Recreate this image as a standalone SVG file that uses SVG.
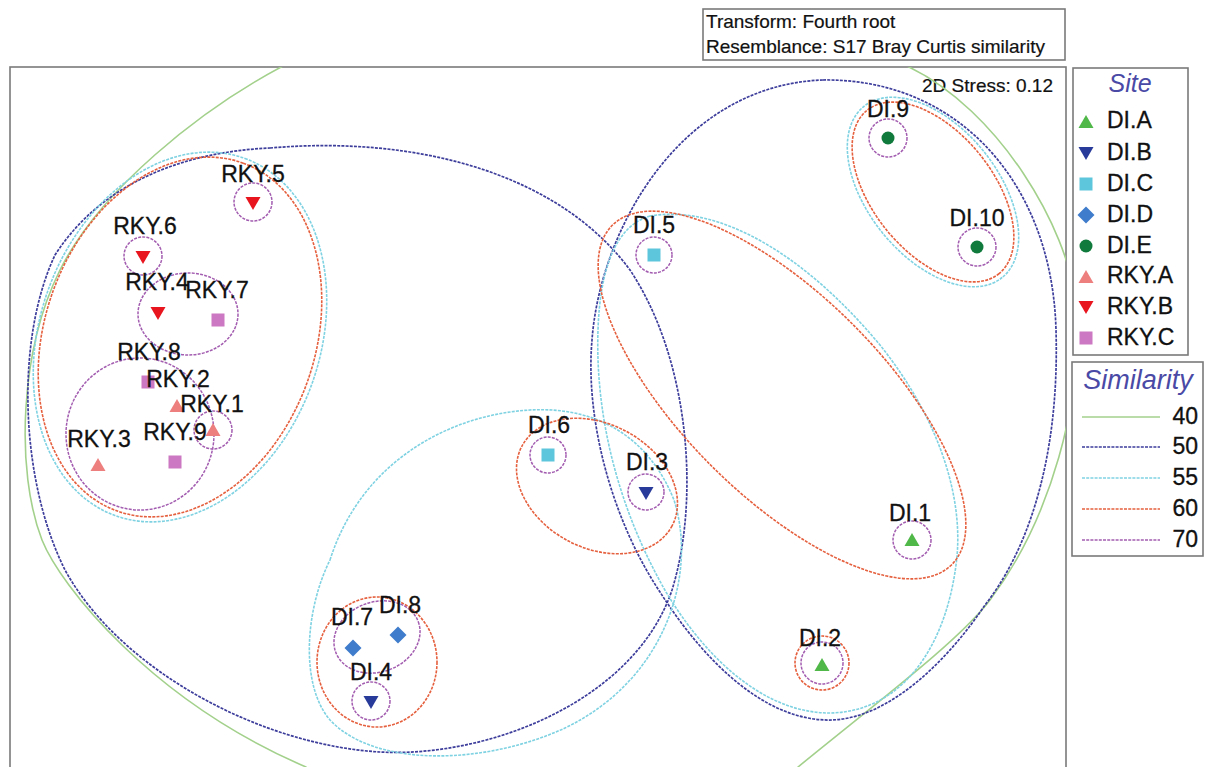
<svg xmlns="http://www.w3.org/2000/svg" xmlns:xlink="http://www.w3.org/1999/xlink" width="1207" height="767" viewBox="0 0 1207 767">
<style>
  .lbl{font-family:"Liberation Sans",Arial,sans-serif;font-size:23px;fill:#111;stroke:#111;stroke-width:0.3;text-anchor:middle}
  .hdr{font-family:"Liberation Sans",Arial,sans-serif;font-size:19px;fill:#111;stroke:#111;stroke-width:0.2}
  .leg{font-family:"Liberation Sans",Arial,sans-serif;font-size:23px;fill:#111;stroke:#111;stroke-width:0.3}
  .ttl{font-family:"Liberation Sans",Arial,sans-serif;font-style:italic;fill:#4a4aa6;text-anchor:middle}
  .box{fill:#fff;stroke:#7a7a7a;stroke-width:1.6}
  .c40{fill:none;stroke:#a3d18c;stroke-width:1.6}
  .c50{fill:none;stroke:#3d3d9c;stroke-width:1.7;stroke-dasharray:3 1.2}
  .c55{fill:none;stroke:#7fd2e2;stroke-width:1.6;stroke-dasharray:3 1.2}
  .c60{fill:none;stroke:#e5603e;stroke-width:1.6;stroke-dasharray:3 1.2}
  .c70{fill:none;stroke:#a35db0;stroke-width:1.5;stroke-dasharray:3 1.2}
  .DIA{fill:#4fb848}.DIB{fill:#283a9a}.DIC{fill:#5ec6dc}.DID{fill:#3f7ccc}.DIE{fill:#0f7a3c}
  .RKA{fill:#ee7f7f}.RKB{fill:#e8141e}.RKC{fill:#cc78c2}
</style>
<defs>
  <polygon id="tu" points="0,-7 7.5,6 -7.5,6"/>
  <polygon id="td" points="-7.5,-6 7.5,-6 0,7"/>
  <rect id="sq" x="-6.5" y="-6.5" width="13" height="13"/>
  <polygon id="dm" points="0,-8.5 8.5,0 0,8.5 -8.5,0"/>
  <circle id="ci" r="6.5"/>
  <clipPath id="frameClip"><rect x="10" y="67" width="1056" height="710"/></clipPath>
</defs>

<rect width="1207" height="767" fill="#fff"/>

<g id="header">
  <rect class="box" x="703" y="9" width="362" height="51"/>
  <text class="hdr" x="706" y="28">Transform: Fourth root</text>
  <text class="hdr" x="706" y="53">Resemblance: S17 Bray Curtis similarity</text>
</g>

<g id="frame">
  <rect x="10" y="67" width="1056" height="720" fill="none" stroke="#7a7a7a" stroke-width="1.6"/>
  <text class="hdr" x="1053" y="92" text-anchor="end">2D Stress: 0.12</text>
</g>

<g id="contours" clip-path="url(#frameClip)">
  <!-- 40 -->
  <path class="c40" d="M 283,66 C 200,110 100,190 60,270 C 20,350 15,470 42,540 C 60,585 150,700 306,767 L 320,800 L 780,800 L 798,767 C 880,700 960,640 990,600 C 1050,520 1085,400 1075,300 C 1068,230 1000,110 907,66"/>
  <!-- 50 left -->
  <path class="c50" d="M 270,148 C 420,135 560,175 630,270 C 690,360 700,500 672,590 C 635,700 490,758 380,752 C 260,745 120,670 65,570 C 20,480 15,340 55,255 C 100,185 180,152 270,148 Z"/>
  <!-- 50 right -->
  <path class="c50" d="M 823,80 C 955,78 1052,180 1056,330 C 1060,470 1022,558 985,605 C 948,660 890,718 832,720 C 762,722 700,655 660,592 C 612,520 585,420 592,340 C 600,230 680,85 823,80 Z"/>
  <!-- 55 -->
  <ellipse class="c55" cx="180" cy="337" rx="190" ry="140" transform="rotate(-70 180 337)"/>
  <ellipse class="c55" cx="933" cy="192" rx="110" ry="65" transform="rotate(51 933 192)"/>
  <path class="c55" d="M 650,216 C 720,204 805,255 880,345 C 940,420 965,500 956,565 C 945,650 900,712 830,713 C 760,713 702,652 666,592 C 620,512 595,420 598,330 C 600,270 615,226 650,216 Z"/>
  <path class="c55" d="M 330,560 C 360,465 445,415 530,410 C 600,406 650,440 674,500 C 698,575 665,680 565,728 C 485,765 375,768 330,720 C 300,685 305,610 330,560 Z"/>
  <!-- 60 -->
  <ellipse class="c60" cx="180" cy="337" rx="185" ry="135" transform="rotate(-70 180 337)"/>
  <ellipse class="c60" cx="933" cy="192" rx="105" ry="60" transform="rotate(51 933 192)"/>
  <ellipse class="c60" cx="782" cy="395" rx="240" ry="100" transform="rotate(45 782 395)"/>
  <ellipse class="c60" cx="597" cy="486" rx="85" ry="62" transform="rotate(28 597 486)"/>
  <ellipse class="c60" cx="377" cy="662" rx="60" ry="65"/>
  <circle class="c60" cx="822" cy="663" r="27"/>
  <!-- 70 -->
  <ellipse class="c70" cx="188" cy="314" rx="50" ry="41"/>
  <ellipse class="c70" cx="140" cy="434" rx="74" ry="76"/>
  <ellipse class="c70" cx="377" cy="637" rx="44" ry="35" transform="rotate(-20 377 637)"/>
</g>

<g id="RKY.5"><circle class="c70" cx="253" cy="202" r="19"/><use xlink:href="#td" x="253" y="203" class="RKB"/><text class="lbl" x="253" y="182">RKY.5</text></g>
<g id="RKY.6"><circle class="c70" cx="143" cy="256" r="19"/><use xlink:href="#td" x="143" y="257" class="RKB"/><text class="lbl" x="145" y="234">RKY.6</text></g>
<g id="RKY.4"><use xlink:href="#td" x="158" y="313" class="RKB"/><text class="lbl" x="157" y="290">RKY.4</text></g>
<g id="RKY.7"><use xlink:href="#sq" x="218" y="320" class="RKC"/><text class="lbl" x="217" y="298">RKY.7</text></g>
<g id="RKY.8"><use xlink:href="#sq" x="148" y="382" class="RKC"/><text class="lbl" x="149" y="360">RKY.8</text></g>
<g id="RKY.2"><use xlink:href="#tu" x="177" y="406" class="RKA"/><text class="lbl" x="178" y="387">RKY.2</text></g>
<g id="RKY.1"><circle class="c70" cx="213" cy="430" r="19"/><use xlink:href="#tu" x="213" y="430" class="RKA"/><text class="lbl" x="212" y="412">RKY.1</text></g>
<g id="RKY.9"><use xlink:href="#sq" x="175" y="462" class="RKC"/><text class="lbl" x="175" y="440">RKY.9</text></g>
<g id="RKY.3"><use xlink:href="#tu" x="98" y="465" class="RKA"/><text class="lbl" x="99" y="447">RKY.3</text></g>

<g id="DI.9"><circle class="c70" cx="888" cy="138" r="19"/><use xlink:href="#ci" x="888" y="138" class="DIE"/><text class="lbl" x="888" y="117">DI.9</text></g>
<g id="DI.10"><circle class="c70" cx="977" cy="247" r="19"/><use xlink:href="#ci" x="977" y="247" class="DIE"/><text class="lbl" x="977" y="226">DI.10</text></g>
<g id="DI.5"><circle class="c70" cx="654" cy="255" r="18"/><use xlink:href="#sq" x="654" y="255" class="DIC"/><text class="lbl" x="654" y="233">DI.5</text></g>
<g id="DI.6"><circle class="c70" cx="548" cy="455" r="18"/><use xlink:href="#sq" x="548" y="455" class="DIC"/><text class="lbl" x="549" y="433">DI.6</text></g>
<g id="DI.3"><circle class="c70" cx="646" cy="492" r="18"/><use xlink:href="#td" x="646" y="493" class="DIB"/><text class="lbl" x="647" y="470">DI.3</text></g>
<g id="DI.1"><circle class="c70" cx="912" cy="540" r="19"/><use xlink:href="#tu" x="912" y="540" class="DIA"/><text class="lbl" x="910" y="521">DI.1</text></g>
<g id="DI.2"><circle class="c70" cx="822" cy="663" r="21"/><use xlink:href="#tu" x="822" y="665" class="DIA"/><text class="lbl" x="820" y="646">DI.2</text></g>
<g id="DI.7"><use xlink:href="#dm" x="353" y="648" class="DID"/><text class="lbl" x="352" y="625">DI.7</text></g>
<g id="DI.8"><use xlink:href="#dm" x="398" y="635" class="DID"/><text class="lbl" x="400" y="613">DI.8</text></g>
<g id="DI.4"><circle class="c70" cx="371" cy="701" r="19"/><use xlink:href="#td" x="371" y="702" class="DIB"/><text class="lbl" x="371" y="680">DI.4</text></g>

<g id="legend-site">
  <rect class="box" x="1073" y="68" width="115" height="287"/>
  <text class="ttl" x="1130" y="92" font-size="25">Site</text>
  <use xlink:href="#tu" x="1086" y="122" class="DIA"/><text class="leg" x="1107" y="128">DI.A</text>
  <use xlink:href="#td" x="1086" y="153" class="DIB"/><text class="leg" x="1107" y="160">DI.B</text>
  <use xlink:href="#sq" x="1086" y="184" class="DIC"/><text class="leg" x="1107" y="191">DI.C</text>
  <use xlink:href="#dm" x="1086" y="215" class="DID"/><text class="leg" x="1107" y="222">DI.D</text>
  <use xlink:href="#ci" x="1086" y="246" class="DIE"/><text class="leg" x="1107" y="253">DI.E</text>
  <use xlink:href="#tu" x="1086" y="277" class="RKA"/><text class="leg" x="1107" y="283">RKY.A</text>
  <use xlink:href="#td" x="1086" y="307" class="RKB"/><text class="leg" x="1107" y="314">RKY.B</text>
  <use xlink:href="#sq" x="1086" y="338" class="RKC"/><text class="leg" x="1107" y="345">RKY.C</text>
</g>

<g id="legend-similarity">
  <rect class="box" x="1072" y="362" width="131" height="194"/>
  <text class="ttl" x="1138" y="389" font-size="27">Similarity</text>
  <line class="c40" x1="1082" y1="417" x2="1160" y2="417"/><text class="leg" x="1198" y="424" text-anchor="end">40</text>
  <line class="c50" x1="1082" y1="447" x2="1160" y2="447"/><text class="leg" x="1198" y="454" text-anchor="end">50</text>
  <line class="c55" x1="1082" y1="478" x2="1160" y2="478"/><text class="leg" x="1198" y="485" text-anchor="end">55</text>
  <line class="c60" x1="1082" y1="509" x2="1160" y2="509"/><text class="leg" x="1198" y="516" text-anchor="end">60</text>
  <line class="c70" x1="1082" y1="540" x2="1160" y2="540"/><text class="leg" x="1198" y="547" text-anchor="end">70</text>
</g>
</svg>
